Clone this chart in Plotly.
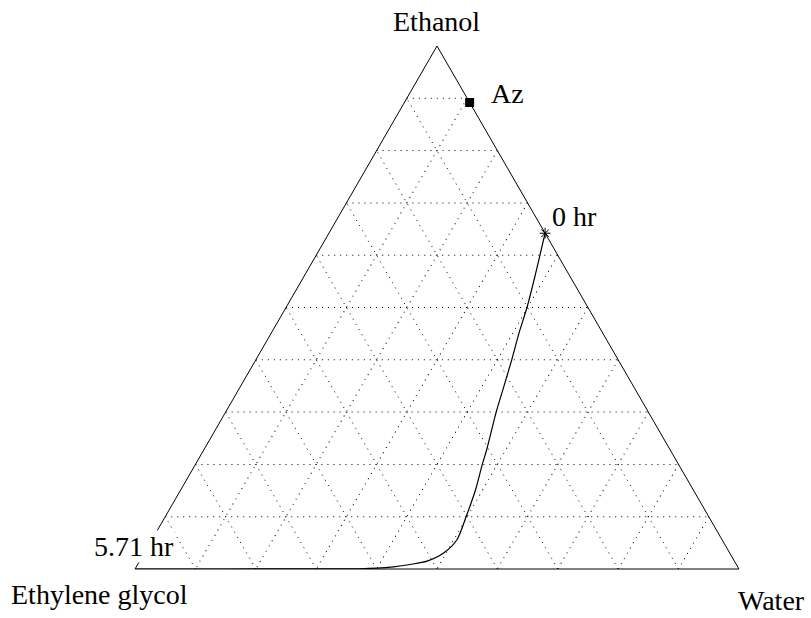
import plotly.graph_objects as go

# Liquid composition trajectory (mole fractions) during the batch run
ethanol = [0.642, 0.554, 0.500, 0.452, 0.399, 0.350, 0.300, 0.229, 0.200, 0.152,
           0.101, 0.056, 0.031, 0.015, 0.0086, 0.0042, 0.0015, 0.0004, 0.0002,
           0.0001, 0.0, 0.0]
water = [0.358, 0.384, 0.399, 0.410, 0.424, 0.436, 0.448, 0.468, 0.475, 0.488,
         0.498, 0.505, 0.496, 0.476, 0.451, 0.426, 0.399, 0.372, 0.300,
         0.200, 0.100, 0.0]
glycol = [round(1 - e - w, 4) for e, w in zip(ethanol, water)]

# Ethanol-water azeotrope
az_ethanol = [0.892]
az_water = [0.108]
az_glycol = [round(1 - az_ethanol[0] - az_water[0], 4)]

start_label = "0 hr"
end_label = "5.71 hr"
az_label = "Az"
corner_labels = ["Ethanol", "Ethylene glycol", "Water"]

FONT = "Liberation Serif, Times New Roman, serif"
FS = 28

fig = go.Figure()

fig.add_trace(go.Scatterternary(
    a=ethanol, b=glycol, c=water, mode="lines",
    line=dict(color="black", width=1.2, shape="spline", smoothing=0.8),
    hoverinfo="skip", showlegend=False, cliponaxis=False,
))
fig.add_trace(go.Scatterternary(
    a=[ethanol[0]], b=[glycol[0]], c=[water[0]], mode="markers",
    marker=dict(symbol="asterisk-open", size=9, color="black",
                line=dict(color="black", width=1)),
    hoverinfo="skip", showlegend=False, cliponaxis=False,
))
fig.add_trace(go.Scatterternary(
    a=az_ethanol, b=az_glycol, c=az_water, mode="markers",
    marker=dict(symbol="square", size=9, color="black"),
    hoverinfo="skip", showlegend=False, cliponaxis=False,
))


def to_paper(a, c):
    # the triangle spans the whole plot area, so paper fractions follow directly
    return c + a / 2, a


axis_style = dict(
    showline=True, linecolor="black", linewidth=1,
    showgrid=True, gridcolor="black", gridwidth=1, griddash="1px,5px",
    tick0=0, dtick=0.1, ticks="", showticklabels=False, title=dict(text=""),
)

annotations = []


def label(text, a, c, xanchor, xshift, yshift, bg=None):
    x, y = to_paper(a, c)
    annotations.append(dict(
        text=text, x=x, y=y, xref="paper", yref="paper",
        xanchor=xanchor, yanchor="middle", xshift=xshift, yshift=yshift,
        showarrow=False, font=dict(family=FONT, size=FS, color="black"),
        bgcolor=bg, borderpad=0,
    ))


label(az_label, az_ethanol[0], az_water[0], "left", 20, 9)
label(start_label, ethanol[0], water[0], "left", 6, 17)
label(end_label, ethanol[-1], water[-1], "center", -1, 23, bg="white")
label(corner_labels[0], 1, 0, "center", -1, 25)
label(corner_labels[1], 0, 0, "center", -36, -25)
label(corner_labels[2], 0, 1, "center", 32, -31)

fig.update_layout(
    width=811, height=618,
    margin=dict(l=135, r=72, t=46, b=49),
    paper_bgcolor="white", plot_bgcolor="white",
    font=dict(family=FONT, size=FS, color="black"),
    ternary=dict(
        sum=1, bgcolor="white",
        aaxis=axis_style, baxis=axis_style, caxis=axis_style,
    ),
    annotations=annotations,
    showlegend=False,
)

fig.write_html("out.html")
